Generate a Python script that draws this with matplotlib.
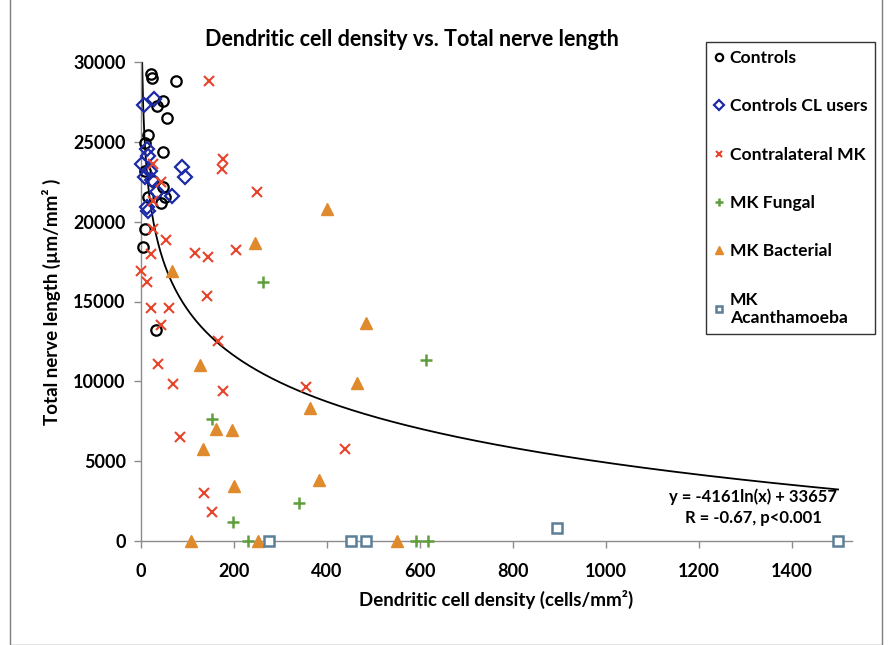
import numpy as np
import matplotlib
matplotlib.use('Agg')
import matplotlib.pyplot as plt
from matplotlib.patches import Rectangle

plt.rcParams['font.family'] = ['Lato', 'DejaVu Sans']
plt.rcParams['font.weight'] = 'bold'

# data (density in cells/mm2, nerve length in um/mm2)
controls_x = [21, 24, 75, 48, 34, 55, 16, 9, 48, 9, 26, 48, 52, 44, 16, 9, 5, 32]
controls_y = [29230, 29020, 28800, 27560, 27250, 26520, 25400, 24900, 24390, 23190,
              22560, 22140, 21520, 21200, 21520, 19540, 18440, 13230]

cl_x = [6, 27, 12, 2, 16, 19, 9, 23, 88, 95, 34, 66, 12, 16]
cl_y = [27290, 27670, 24540, 23600, 24120, 23190, 22770, 22620, 23400, 22770,
        21830, 21620, 20900, 20690]

contra_x = [147, 176, 174, 250, 116, 145, 204, 26, 44, 26, 26, 54, 21, 1, 12,
            143, 21, 61, 44, 166, 36, 68, 177, 355, 84, 136, 152, 438]
contra_y = [28810, 23920, 23290, 21830, 18020, 17810, 18230, 23600, 22500, 21310,
            19540, 18850, 17980, 16900, 16250, 15370, 14600, 14600, 13500, 12520,
            11100, 9810, 9380, 9650, 6520, 3020, 1830, 5790]

fungal_x = [263, 613, 152, 197, 339, 231, 592, 618]
fungal_y = [16250, 11350, 7620, 1210, 2360, 0, 0, 0]

bact_x = [245, 66, 401, 484, 465, 126, 364, 161, 195, 133, 201, 382, 107, 252, 550]
bact_y = [18650, 16900, 20790, 13670, 9900, 11000, 8330, 7040, 6940, 5790, 3460,
          3810, 0, 0, 0]

acanth_x = [275, 451, 484, 896, 1500]
acanth_y = [0, 0, 0, 830, 0]

# logarithmic fit: y = a ln(x) + b
fit_a = -4161
fit_b = 33657

fig = plt.figure(figsize=(8.88, 6.45), dpi=100)
fig.patches.append(Rectangle((10 / 888, 0), 872 / 888, 1.2, transform=fig.transFigure,
                             fill=False, edgecolor='#7f7f7f', lw=1.0))

ax = fig.add_axes([141 / 888, 1 - 541 / 645, 711 / 888, 479 / 645])

ax.plot(controls_x, controls_y, 'o', mfc='none', mec='black', mew=1.6, ms=7.5,
        label='Controls', clip_on=False, zorder=3)
ax.plot(cl_x, cl_y, 'D', mfc='none', mec='#1c2aa8', mew=1.6, ms=7,
        label='Controls CL users', clip_on=False, zorder=3)
ax.plot(contra_x, contra_y, 'x', color='#e6442b', mew=1.5, ms=6.5,
        label='Contralateral MK', clip_on=False, zorder=3)
ax.plot(fungal_x, fungal_y, '+', color='#5f9e3c', mew=1.8, ms=8,
        label='MK Fungal', clip_on=False, zorder=3)
ax.plot(bact_x, bact_y, '^', color='#df8a2c', mec='#df8a2c', ms=8.5,
        label='MK Bacterial', clip_on=False, zorder=3)
ax.plot(acanth_x, acanth_y, 's', mfc='white', mec='#5a7f97', mew=1.8, ms=6.5,
        label='MK\nAcanthamoeba', clip_on=False, zorder=3)

xf = np.linspace(2.2, 1500, 600)
ax.plot(xf, fit_a * np.log(xf) + fit_b, color='black', lw=1.3, zorder=2)

ax.set_xlim(0, 1530)
ax.set_ylim(0, 30000)
ax.set_xticks(np.arange(0, 1401, 200))
ax.set_yticks(np.arange(0, 30001, 5000))
for s in ['top', 'right']:
    ax.spines[s].set_visible(False)
for s in ['left', 'bottom']:
    ax.spines[s].set_color('#8c8c8c')
    ax.spines[s].set_linewidth(1.0)
ax.tick_params(axis='both', colors='#8c8c8c', length=5, width=1.0, labelsize=13,
               labelcolor='black')
for lab in ax.get_xticklabels() + ax.get_yticklabels():
    lab.set_fontweight('bold')
ax.tick_params(axis='x', pad=11)
ax.tick_params(axis='y', pad=6)

ax.set_xlabel('Dendritic cell density (cells/mm²)', fontsize=13.5, fontweight='bold',
              labelpad=7)
ax.set_ylabel('Total nerve length (µm/mm² )', fontsize=13.5, fontweight='bold',
              labelpad=9)
fig.text(412 / 888, 1 - 40 / 645, 'Dendritic cell density vs. Total nerve length',
         ha='center', va='center', fontsize=15.5, fontweight='bold')

ax.text(1318, 2750, 'y = -4161ln(x) + 33657', ha='center', va='center',
        fontsize=12, fontweight='bold')
ax.text(1318, 1450, 'R = -0.67, p<0.001', ha='center', va='center',
        fontsize=12, fontweight='bold')

leg = fig.legend(loc='upper left', bbox_to_anchor=(706 / 888, 1 - 42 / 645),
                 frameon=True, fancybox=False, edgecolor='black',
                 labelspacing=1.85, handlelength=0.6, handletextpad=0.3,
                 borderpad=0.45, borderaxespad=0, markerscale=0.7,
                 prop={'weight': 'bold', 'size': 12.6})
leg.get_frame().set_linewidth(1.0)

fig.savefig('out.png', dpi=100)
